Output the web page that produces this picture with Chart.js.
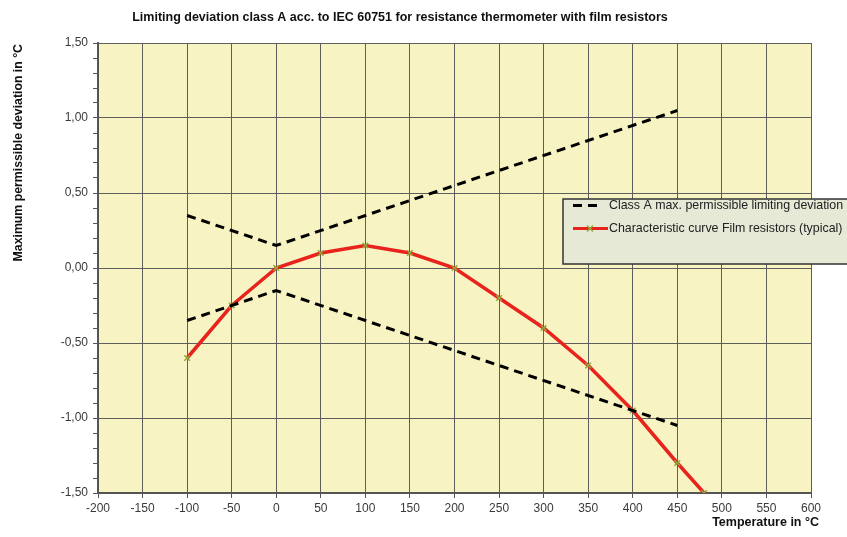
<!DOCTYPE html>
<html>
<head>
<meta charset="utf-8">
<script src="https://cdn.jsdelivr.net/npm/chart.js@4.4.1/dist/chart.umd.min.js"></script>
<style>
  html, body { margin: 0; padding: 0; background: #ffffff; }
  #wrap { position: relative; width: 847px; height: 537px; }
</style>
</head>
<body>
<div id="wrap"><canvas id="chart" width="847" height="537"></canvas></div>
<script>
// temperatures (°C) and typical deviation of film resistors
const curveTemps = [-100, -50, 0, 50, 100, 150, 200, 250, 300, 350, 400, 450, 480];
const curveDeviation = [-0.60, -0.25, 0.00, 0.10, 0.15, 0.10, 0.00, -0.20, -0.40, -0.65, -0.95, -1.30, -1.50];

// class A limits: +/-(0.15 + 0.002*|t|)
const classTemps = [-100, 0, 450];
const classUpper = [0.35, 0.15, 1.05];
const classLower = [-0.35, -0.15, -1.05];

const xMin = -200, xMax = 600, xStep = 50;
const yMin = -1.5, yMax = 1.5, yStep = 0.1;

const chartTitle = 'Limiting deviation class A acc. to IEC 60751 for resistance thermometer with film resistors';
const xTitle = 'Temperature in °C';
const yTitle = 'Maximum permissible deviation in °C';
const legendLabels = ['Class A max. permissible limiting deviation', 'Characteristic curve Film resistors (typical)'];

const FONT = '"Liberation Sans", Arial, sans-serif';

function toPoints(xs, ys) {
    return xs.map((x, i) => ({ x: x, y: ys[i] }));
}

function isMajor(v) {
    return Math.abs(Math.round(v * 10)) % 5 === 0;
}

// plot background + texts + legend box
const decorPlugin = {
    id: 'decor',
    beforeDraw(chart) {
        const ctx = chart.ctx;
        const a = chart.chartArea;
        ctx.save();
        ctx.fillStyle = '#f7f3c3';
        ctx.fillRect(a.left, a.top, a.right - a.left, a.bottom - a.top);
        ctx.restore();
    },
    afterDraw(chart) {
        const ctx = chart.ctx;
        ctx.save();
        ctx.fillStyle = '#111111';
        ctx.textBaseline = 'middle';

        // main title
        ctx.font = 'bold 12.5px ' + FONT;
        ctx.textAlign = 'center';
        ctx.fillText(chartTitle, 400, 18);

        // x title
        ctx.font = 'bold 12.5px ' + FONT;
        ctx.textAlign = 'right';
        ctx.fillText(xTitle, 819, 523);

        // y title
        ctx.save();
        ctx.translate(19, 44);
        ctx.rotate(-Math.PI / 2);
        ctx.font = 'bold 12.3px ' + FONT;
        ctx.textAlign = 'right';
        ctx.fillText(yTitle, 0, 0);
        ctx.restore();

        // legend box
        ctx.fillStyle = '#e6e9d6';
        ctx.fillRect(563, 199, 300, 65);
        ctx.strokeStyle = '#333333';
        ctx.lineWidth = 1.5;
        ctx.strokeRect(563, 199, 300, 65);

        ctx.lineWidth = 3;
        ctx.strokeStyle = '#000000';
        ctx.setLineDash([9, 6]);
        ctx.beginPath();
        ctx.moveTo(573, 205.5);
        ctx.lineTo(598, 205.5);
        ctx.stroke();
        ctx.setLineDash([]);

        ctx.strokeStyle = '#e8231c';
        ctx.beginPath();
        ctx.moveTo(573, 228.5);
        ctx.lineTo(608, 228.5);
        ctx.stroke();
        ctx.strokeStyle = '#8cab3c';
        ctx.lineWidth = 1.5;
        ctx.beginPath();
        ctx.moveTo(587, 225.5); ctx.lineTo(593, 231.5);
        ctx.moveTo(593, 225.5); ctx.lineTo(587, 231.5);
        ctx.stroke();

        ctx.fillStyle = '#222222';
        ctx.font = '12.4px ' + FONT;
        ctx.textAlign = 'left';
        ctx.fillText(legendLabels[0], 609, 206);
        ctx.fillText(legendLabels[1], 609, 229);
        ctx.restore();
    }
};

new Chart(document.getElementById('chart'), {
    type: 'line',
    data: {
        datasets: [
            {
                label: legendLabels[0],
                data: toPoints(classTemps, classUpper),
                borderColor: '#000000',
                borderWidth: 3,
                borderDash: [9, 6],
                pointRadius: 0,
                tension: 0
            },
            {
                label: legendLabels[0],
                data: toPoints(classTemps, classLower),
                borderColor: '#000000',
                borderWidth: 3,
                borderDash: [9, 6],
                pointRadius: 0,
                tension: 0
            },
            {
                label: legendLabels[1],
                data: toPoints(curveTemps, curveDeviation),
                borderColor: '#e8231c',
                borderWidth: 3.5,
                pointStyle: 'crossRot',
                pointRadius: 4,
                pointBorderColor: '#8cab3c',
                pointBorderWidth: 1.5,
                tension: 0
            }
        ]
    },
    plugins: [decorPlugin],
    options: {
        responsive: false,
        animation: false,
        layout: { padding: { left: 0, right: 36, top: 43, bottom: 0 } },
        plugins: {
            legend: { display: false },
            title: { display: false },
            tooltip: { enabled: false }
        },
        scales: {
            x: {
                type: 'linear',
                min: xMin,
                max: xMax,
                afterFit: (scale) => { scale.height = 44; },
                ticks: {
                    stepSize: xStep,
                    color: '#3a3a3a',
                    padding: 3,
                    maxRotation: 0,
                    font: { family: FONT, size: 12 }
                },
                grid: { color: '#5e5e5e', lineWidth: 1, tickLength: 5, tickColor: '#555555' },
                border: { color: '#555555', width: 2 }
            },
            y: {
                min: yMin,
                max: yMax,
                afterFit: (scale) => { scale.width = 98; },
                ticks: {
                    stepSize: yStep,
                    color: '#3a3a3a',
                    padding: 5,
                    autoSkip: false,
                    font: { family: FONT, size: 12 },
                    callback: (v) => isMajor(v) ? v.toFixed(2).replace('.', ',') : ''
                },
                grid: {
                    lineWidth: 1,
                    tickLength: 5,
                    color: (c) => isMajor(c.tick.value) ? '#5e5e5e' : 'rgba(0,0,0,0)',
                    tickColor: '#555555'
                },
                border: { color: '#555555', width: 2 }
            }
        }
    }
});
</script>
</body>
</html>
